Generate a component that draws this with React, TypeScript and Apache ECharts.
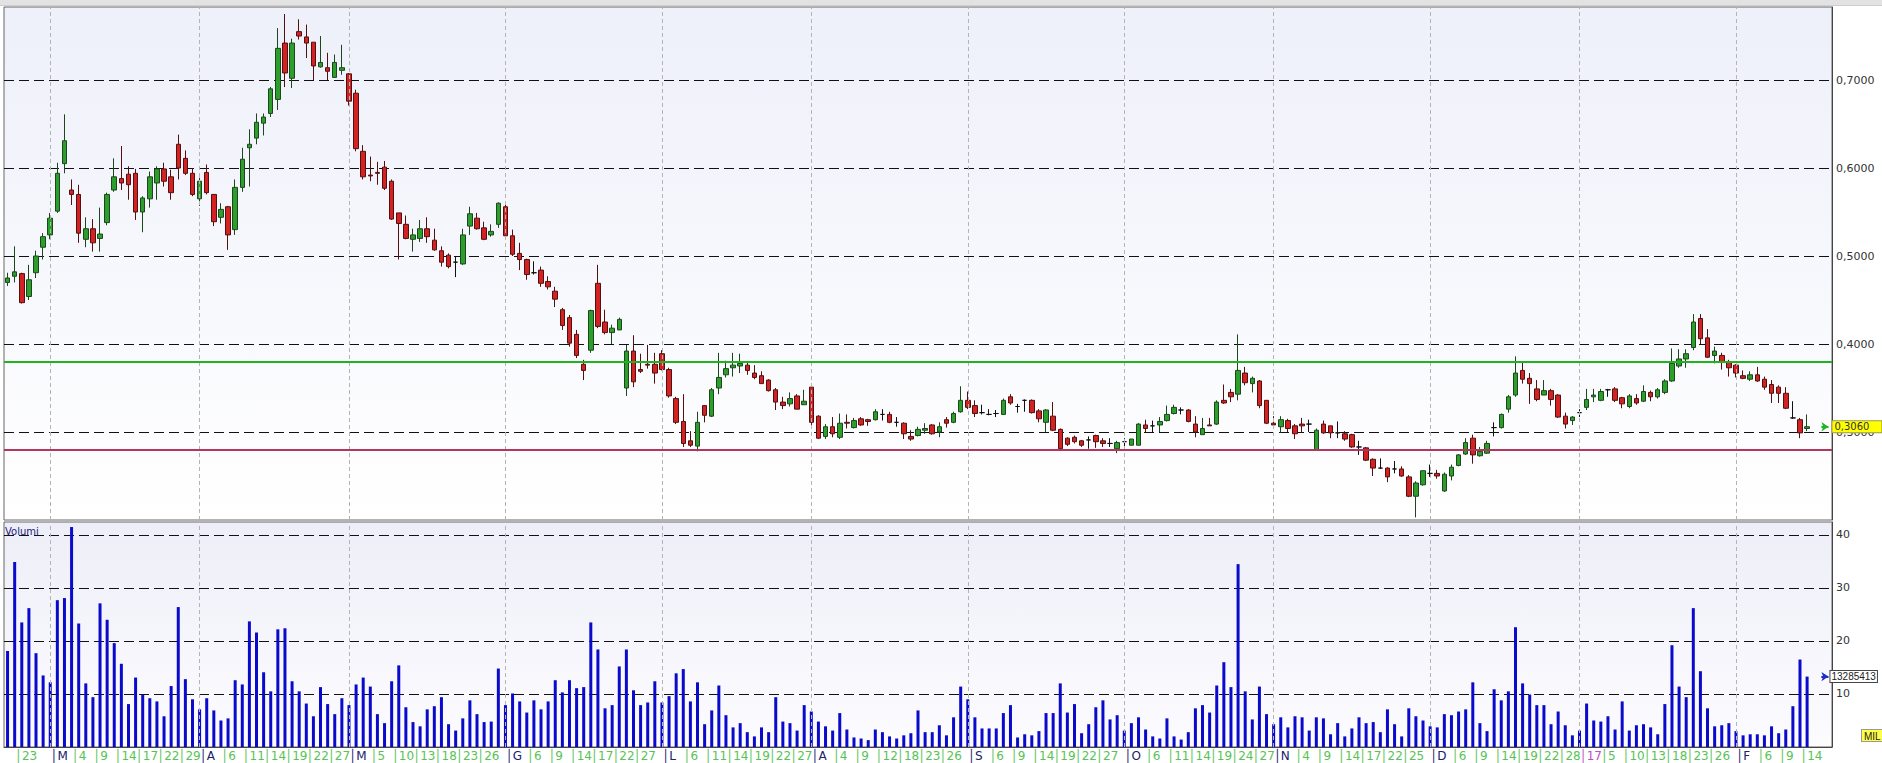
import React, { useEffect, useRef } from "react";
import * as echarts from "echarts";

// ---- calendar (trading days) ----
const MONTHS = ["2016-02", "2016-03", "2016-04", "2016-05", "2016-06", "2016-07", "2016-08", "2016-09", "2016-10", "2016-11", "2016-12", "2017-01", "2017-02"];
const MONTH_DAYS: number[][] = [
  [22, 23, 24, 25, 26, 29],
  [1, 2, 3, 4, 7, 8, 9, 10, 11, 14, 15, 16, 17, 18, 21, 22, 23, 24, 29, 30, 31],
  [1, 4, 5, 6, 7, 8, 11, 12, 13, 14, 15, 18, 19, 20, 21, 22, 25, 26, 27, 28, 29],
  [2, 3, 4, 5, 6, 9, 10, 11, 12, 13, 16, 17, 18, 19, 20, 23, 24, 25, 26, 27, 30, 31],
  [1, 2, 3, 6, 7, 8, 9, 10, 13, 14, 15, 16, 17, 20, 21, 22, 23, 24, 27, 28, 29, 30],
  [1, 4, 5, 6, 7, 8, 11, 12, 13, 14, 15, 18, 19, 20, 21, 22, 25, 26, 27, 28, 29],
  [1, 2, 3, 4, 5, 8, 9, 10, 11, 12, 16, 17, 18, 19, 22, 23, 24, 25, 26, 29, 30, 31],
  [1, 2, 5, 6, 7, 8, 9, 12, 13, 14, 15, 16, 19, 20, 21, 22, 23, 26, 27, 28, 29, 30],
  [3, 4, 5, 6, 7, 10, 11, 12, 13, 14, 17, 18, 19, 20, 21, 24, 25, 26, 27, 28, 31],
  [1, 2, 3, 4, 7, 8, 9, 10, 11, 14, 15, 16, 17, 18, 21, 22, 23, 24, 25, 28, 29, 30],
  [1, 2, 5, 6, 7, 8, 9, 12, 13, 14, 15, 16, 19, 20, 21, 22, 23, 27, 28, 29, 30],
  [2, 3, 4, 5, 6, 9, 10, 11, 12, 13, 16, 17, 18, 19, 20, 23, 24, 25, 26, 27, 30, 31],
  [1, 2, 3, 6, 7, 8, 9, 10, 13, 14, 15],
];
// labelled days on the time axis
const TICK_DAYS: number[][] = [
  [23],
  [1, 4, 9, 14, 17, 22, 29],
  [1, 6, 11, 14, 19, 22, 27],
  [2, 5, 10, 13, 18, 23, 26],
  [1, 6, 9, 14, 17, 22, 27],
  [1, 6, 11, 14, 19, 22, 27],
  [1, 4, 9, 12, 18, 23, 26],
  [1, 6, 9, 14, 19, 22, 27],
  [3, 6, 11, 14, 19, 24, 27],
  [1, 4, 9, 14, 17, 22, 25],
  [1, 6, 9, 14, 19, 22, 28],
  [2, 5, 10, 13, 18, 23, 26],
  [1, 6, 9, 14],
];
const MONTH_LETTERS = ["G", "F", "M", "A", "M", "G", "L", "A", "S", "O", "N", "D"];
const EXTRA_SLOTS = ["+1", "+2", "+3"];

// ---- prices: [open, high, low, close] ----
const OHLC: number[][] = [
  [0.470, 0.481, 0.466, 0.475], [0.477, 0.511, 0.470, 0.482], [0.480, 0.481, 0.446, 0.447], [0.454, 0.490, 0.450, 0.473],
  [0.481, 0.506, 0.475, 0.500], [0.510, 0.526, 0.496, 0.522], [0.524, 0.549, 0.519, 0.543], [0.551, 0.606, 0.549, 0.594],
  [0.605, 0.661, 0.594, 0.631], [0.575, 0.587, 0.558, 0.570], [0.570, 0.581, 0.515, 0.526], [0.519, 0.544, 0.510, 0.531],
  [0.531, 0.542, 0.505, 0.515], [0.520, 0.555, 0.505, 0.525], [0.538, 0.572, 0.535, 0.570], [0.575, 0.611, 0.573, 0.590],
  [0.588, 0.625, 0.575, 0.583], [0.593, 0.602, 0.564, 0.581], [0.594, 0.599, 0.541, 0.550], [0.550, 0.568, 0.527, 0.566],
  [0.565, 0.596, 0.555, 0.590], [0.583, 0.602, 0.564, 0.599], [0.599, 0.606, 0.579, 0.585], [0.590, 0.598, 0.564, 0.572],
  [0.627, 0.638, 0.587, 0.600], [0.611, 0.620, 0.592, 0.594], [0.594, 0.600, 0.568, 0.570], [0.565, 0.589, 0.557, 0.585],
  [0.595, 0.604, 0.570, 0.572], [0.570, 0.570, 0.534, 0.539], [0.544, 0.560, 0.537, 0.553], [0.556, 0.557, 0.507, 0.524],
  [0.530, 0.587, 0.524, 0.578], [0.578, 0.623, 0.573, 0.610], [0.623, 0.644, 0.579, 0.627], [0.634, 0.662, 0.627, 0.652],
  [0.651, 0.662, 0.637, 0.658], [0.662, 0.692, 0.658, 0.690], [0.678, 0.759, 0.666, 0.736], [0.742, 0.775, 0.692, 0.708],
  [0.702, 0.747, 0.691, 0.742], [0.755, 0.769, 0.746, 0.750], [0.749, 0.763, 0.725, 0.742], [0.743, 0.743, 0.700, 0.716],
  [0.715, 0.750, 0.714, 0.720], [0.714, 0.731, 0.700, 0.710], [0.703, 0.729, 0.703, 0.720], [0.711, 0.740, 0.706, 0.714],
  [0.707, 0.708, 0.671, 0.676], [0.685, 0.689, 0.619, 0.622], [0.619, 0.626, 0.587, 0.590], [0.592, 0.613, 0.585, 0.591],
  [0.595, 0.607, 0.581, 0.594], [0.601, 0.608, 0.575, 0.577], [0.585, 0.587, 0.541, 0.542], [0.549, 0.549, 0.496, 0.537],
  [0.536, 0.546, 0.519, 0.520], [0.519, 0.531, 0.505, 0.524], [0.520, 0.541, 0.516, 0.531], [0.531, 0.544, 0.515, 0.522],
  [0.518, 0.531, 0.506, 0.507], [0.506, 0.511, 0.488, 0.493], [0.501, 0.503, 0.486, 0.488], [0.493, 0.500, 0.476, 0.493],
  [0.491, 0.531, 0.490, 0.524], [0.534, 0.556, 0.524, 0.548], [0.543, 0.549, 0.530, 0.531], [0.532, 0.539, 0.518, 0.519],
  [0.524, 0.536, 0.522, 0.528], [0.536, 0.561, 0.532, 0.560], [0.556, 0.558, 0.520, 0.523], [0.523, 0.530, 0.500, 0.502],
  [0.503, 0.515, 0.484, 0.496], [0.496, 0.497, 0.473, 0.479], [0.481, 0.494, 0.479, 0.481], [0.484, 0.488, 0.465, 0.469],
  [0.471, 0.477, 0.462, 0.465], [0.460, 0.465, 0.442, 0.451], [0.439, 0.441, 0.416, 0.421], [0.430, 0.433, 0.397, 0.401],
  [0.411, 0.416, 0.384, 0.387], [0.377, 0.382, 0.359, 0.370], [0.393, 0.439, 0.390, 0.438], [0.469, 0.490, 0.418, 0.420],
  [0.425, 0.439, 0.411, 0.413], [0.413, 0.422, 0.400, 0.418], [0.416, 0.430, 0.416, 0.428], [0.350, 0.399, 0.341, 0.392],
  [0.392, 0.410, 0.351, 0.357], [0.371, 0.389, 0.367, 0.369], [0.377, 0.399, 0.372, 0.376], [0.377, 0.390, 0.355, 0.367],
  [0.389, 0.393, 0.370, 0.371], [0.371, 0.373, 0.339, 0.341], [0.338, 0.340, 0.309, 0.311], [0.312, 0.343, 0.283, 0.287],
  [0.290, 0.301, 0.283, 0.285], [0.284, 0.323, 0.278, 0.311], [0.330, 0.330, 0.311, 0.319], [0.318, 0.350, 0.317, 0.348],
  [0.350, 0.390, 0.343, 0.362], [0.365, 0.381, 0.362, 0.372], [0.373, 0.390, 0.363, 0.376], [0.375, 0.389, 0.367, 0.378],
  [0.376, 0.380, 0.365, 0.370], [0.367, 0.376, 0.360, 0.362], [0.364, 0.369, 0.355, 0.355], [0.359, 0.360, 0.346, 0.347],
  [0.348, 0.350, 0.325, 0.334], [0.334, 0.340, 0.326, 0.330], [0.332, 0.345, 0.329, 0.338], [0.341, 0.343, 0.326, 0.326],
  [0.331, 0.348, 0.331, 0.335], [0.351, 0.353, 0.308, 0.311], [0.318, 0.319, 0.292, 0.293], [0.295, 0.309, 0.292, 0.306],
  [0.306, 0.317, 0.294, 0.298], [0.294, 0.321, 0.292, 0.310], [0.311, 0.320, 0.304, 0.310], [0.305, 0.316, 0.304, 0.313],
  [0.315, 0.317, 0.307, 0.308], [0.314, 0.315, 0.307, 0.312], [0.314, 0.326, 0.313, 0.323], [0.320, 0.326, 0.313, 0.320],
  [0.320, 0.323, 0.310, 0.311], [0.311, 0.317, 0.306, 0.311], [0.310, 0.311, 0.292, 0.298], [0.295, 0.302, 0.290, 0.292],
  [0.296, 0.306, 0.295, 0.303], [0.302, 0.310, 0.298, 0.304], [0.308, 0.309, 0.297, 0.298], [0.300, 0.311, 0.294, 0.306],
  [0.314, 0.317, 0.305, 0.310], [0.311, 0.323, 0.310, 0.321], [0.323, 0.352, 0.322, 0.336], [0.336, 0.346, 0.326, 0.328],
  [0.330, 0.336, 0.317, 0.321], [0.322, 0.331, 0.320, 0.322], [0.320, 0.326, 0.319, 0.320], [0.321, 0.325, 0.317, 0.321],
  [0.320, 0.338, 0.320, 0.336], [0.340, 0.343, 0.331, 0.333], [0.329, 0.332, 0.322, 0.329], [0.336, 0.337, 0.323, 0.336],
  [0.336, 0.337, 0.321, 0.322], [0.324, 0.326, 0.311, 0.315], [0.311, 0.326, 0.300, 0.325], [0.318, 0.334, 0.301, 0.302],
  [0.303, 0.304, 0.280, 0.281], [0.293, 0.294, 0.284, 0.286], [0.294, 0.296, 0.287, 0.289], [0.290, 0.291, 0.283, 0.285],
  [0.291, 0.295, 0.281, 0.291], [0.296, 0.297, 0.282, 0.289], [0.290, 0.293, 0.283, 0.287], [0.287, 0.293, 0.283, 0.287],
  [0.281, 0.290, 0.276, 0.288], [0.289, 0.293, 0.283, 0.289], [0.285, 0.292, 0.285, 0.292], [0.285, 0.310, 0.285, 0.309],
  [0.308, 0.314, 0.300, 0.304], [0.307, 0.313, 0.300, 0.307], [0.308, 0.317, 0.300, 0.312], [0.313, 0.330, 0.312, 0.320],
  [0.321, 0.331, 0.320, 0.328], [0.325, 0.328, 0.320, 0.325], [0.325, 0.326, 0.311, 0.312], [0.309, 0.318, 0.294, 0.300],
  [0.297, 0.316, 0.297, 0.304], [0.308, 0.316, 0.307, 0.307], [0.309, 0.336, 0.308, 0.334], [0.336, 0.354, 0.332, 0.333],
  [0.345, 0.349, 0.334, 0.340], [0.343, 0.411, 0.336, 0.370], [0.367, 0.374, 0.353, 0.356], [0.355, 0.363, 0.345, 0.361],
  [0.358, 0.359, 0.327, 0.330], [0.336, 0.336, 0.309, 0.310], [0.310, 0.318, 0.307, 0.308], [0.306, 0.318, 0.299, 0.314],
  [0.313, 0.315, 0.300, 0.304], [0.307, 0.309, 0.292, 0.298], [0.309, 0.316, 0.299, 0.307], [0.309, 0.314, 0.300, 0.309],
  [0.280, 0.304, 0.279, 0.302], [0.309, 0.313, 0.298, 0.299], [0.307, 0.307, 0.293, 0.299], [0.299, 0.312, 0.293, 0.299],
  [0.298, 0.301, 0.290, 0.292], [0.297, 0.298, 0.282, 0.283], [0.283, 0.290, 0.274, 0.283], [0.282, 0.283, 0.267, 0.268],
  [0.269, 0.270, 0.250, 0.259], [0.259, 0.270, 0.258, 0.259], [0.259, 0.260, 0.243, 0.249], [0.258, 0.267, 0.253, 0.258],
  [0.258, 0.261, 0.249, 0.250], [0.249, 0.251, 0.226, 0.227], [0.227, 0.244, 0.203, 0.242], [0.240, 0.256, 0.239, 0.256],
  [0.253, 0.263, 0.249, 0.253], [0.253, 0.257, 0.247, 0.250], [0.233, 0.254, 0.232, 0.252], [0.250, 0.263, 0.245, 0.260],
  [0.262, 0.275, 0.261, 0.274], [0.275, 0.293, 0.274, 0.288], [0.293, 0.297, 0.264, 0.274], [0.273, 0.283, 0.272, 0.278],
  [0.276, 0.290, 0.275, 0.287], [0.305, 0.311, 0.295, 0.305], [0.305, 0.321, 0.304, 0.320], [0.326, 0.342, 0.322, 0.340],
  [0.342, 0.386, 0.340, 0.367], [0.370, 0.380, 0.355, 0.360], [0.361, 0.367, 0.332, 0.355], [0.349, 0.359, 0.335, 0.337],
  [0.342, 0.359, 0.342, 0.347], [0.347, 0.349, 0.330, 0.337], [0.342, 0.343, 0.316, 0.317], [0.318, 0.322, 0.304, 0.309],
  [0.313, 0.318, 0.308, 0.317], [0.322, 0.326, 0.317, 0.322], [0.328, 0.349, 0.325, 0.337], [0.340, 0.349, 0.334, 0.342],
  [0.336, 0.349, 0.335, 0.346], [0.348, 0.349, 0.340, 0.348], [0.349, 0.351, 0.334, 0.336], [0.339, 0.340, 0.327, 0.332],
  [0.329, 0.343, 0.327, 0.341], [0.338, 0.343, 0.331, 0.333], [0.335, 0.353, 0.334, 0.346], [0.345, 0.347, 0.335, 0.340],
  [0.340, 0.350, 0.338, 0.348], [0.345, 0.360, 0.343, 0.358], [0.358, 0.395, 0.357, 0.378], [0.375, 0.394, 0.373, 0.383],
  [0.383, 0.394, 0.373, 0.389], [0.396, 0.434, 0.393, 0.425], [0.429, 0.434, 0.400, 0.406], [0.407, 0.417, 0.384, 0.385],
  [0.387, 0.397, 0.378, 0.392], [0.387, 0.390, 0.371, 0.380], [0.379, 0.382, 0.363, 0.373], [0.376, 0.377, 0.362, 0.367],
  [0.364, 0.370, 0.360, 0.361], [0.360, 0.369, 0.358, 0.365], [0.365, 0.374, 0.357, 0.358], [0.360, 0.363, 0.348, 0.351],
  [0.354, 0.359, 0.333, 0.344], [0.351, 0.353, 0.333, 0.344], [0.344, 0.351, 0.326, 0.327], [0.316, 0.335, 0.315, 0.316],
  [0.314, 0.316, 0.293, 0.299], [0.304, 0.320, 0.301, 0.306],
];

// ---- volumes (millions) ----
const VOLUMES: number[] = [
  18.1, 34.9, 23.5, 26.2, 17.7, 13.5, 12.2, 27.7, 28.1, 41.5,
  23.3, 12.0, 9.4, 27.1, 24.0, 19.6, 15.7, 8.1, 13.1, 9.9,
  9.2, 8.6, 5.8, 11.5, 26.4, 12.8, 9.0, 7.1, 9.2, 6.9,
  5.0, 5.4, 12.6, 11.8, 23.7, 21.6, 14.1, 10.5, 22.2, 22.4,
  12.4, 10.5, 8.2, 5.8, 11.3, 8.1, 6.2, 9.2, 7.9, 11.8,
  13.1, 11.4, 6.2, 4.5, 12.4, 15.4, 7.5, 4.7, 3.9, 7.1,
  7.7, 9.4, 4.3, 3.1, 5.4, 8.8, 6.2, 4.7, 4.8, 14.8,
  7.9, 10.1, 8.6, 6.5, 8.8, 7.1, 8.6, 12.6, 10.3, 12.6,
  11.1, 11.3, 23.5, 18.4, 7.3, 7.9, 15.2, 18.4, 10.7, 7.9,
  8.4, 12.4, 8.4, 9.6, 13.9, 14.7, 8.6, 12.2, 4.3, 6.9,
  11.6, 6.0, 3.7, 4.5, 2.8, 2.0, 3.7, 2.8, 9.4, 4.8,
  4.5, 3.1, 7.9, 6.7, 4.8, 3.9, 3.1, 6.4, 3.3, 1.8,
  1.6, 1.3, 3.3, 2.8, 2.0, 1.6, 2.2, 2.6, 6.9, 2.8,
  2.8, 4.1, 2.2, 5.6, 11.4, 9.0, 5.6, 3.5, 3.5, 3.5,
  6.4, 7.9, 1.8, 2.4, 2.2, 3.0, 6.4, 6.4, 12.0, 6.5,
  8.1, 2.6, 4.3, 7.5, 8.8, 5.2, 6.0, 3.1, 4.5, 5.6,
  3.3, 2.0, 1.6, 5.4, 2.0, 1.4, 2.8, 7.3, 7.9, 6.5,
  11.6, 16.0, 11.3, 34.5, 10.5, 5.2, 11.4, 6.2, 4.3, 5.6,
  3.7, 5.8, 5.6, 3.1, 5.6, 5.4, 2.4, 4.5, 2.0, 3.5,
  5.6, 4.5, 4.7, 2.8, 7.1, 4.3, 2.0, 7.3, 5.8, 5.0,
  3.9, 3.7, 6.2, 6.0, 6.7, 7.1, 12.2, 4.5, 3.0, 10.9,
  8.8, 10.5, 22.6, 12.0, 9.9, 7.9, 7.9, 4.3, 6.7, 4.1,
  2.2, 3.1, 8.2, 5.0, 4.8, 5.8, 3.3, 8.6, 3.1, 4.1,
  4.3, 3.7, 2.4, 8.1, 19.2, 11.4, 9.4, 26.2, 14.3, 7.3,
  3.9, 4.1, 4.5, 3.0, 2.2, 2.4, 2.4, 2.2, 3.9, 2.6,
  3.3, 7.7, 16.5, 13.285413,
];

// ---- reference lines ----
const SUPPORT_GREEN = 0.383;
const SUPPORT_RED = 0.2818;
const LAST_PRICE = 0.306;
const LAST_PRICE_TEXT = "0,3060";
const LAST_VOLUME = 13.285413;
const LAST_VOLUME_TEXT = "13285413";

const FONT = "'DejaVu Sans', 'Liberation Sans', sans-serif";
const FONT_NARROW = "'Liberation Sans', 'DejaVu Sans', sans-serif";

function buildOption() {
  const pad = (n: number) => (n < 10 ? "0" + n : "" + n);
  const dates: string[] = [];
  const monthStarts: string[] = [];
  const labelMap = new Map<number, string>();
  MONTHS.forEach((m, mi) => {
    MONTH_DAYS[mi].forEach((d, di) => {
      const key = m + "-" + pad(d);
      const idx = dates.length;
      dates.push(key);
      if (di === 0 && mi > 0) monthStarts.push(key);
      if (TICK_DAYS[mi].indexOf(d) >= 0) {
        let txt: string;
        if (di === 0 && mi > 0) {
          const monthNum = parseInt(m.slice(5), 10);
          if (monthNum === 1) txt = "{y|\u2502" + m.slice(2, 4) + "}";
          else txt = "{m|\u2502" + MONTH_LETTERS[monthNum - 1] + "}";
        } else {
          txt = "{g|\u2502" + d + "}";
        }
        labelMap.set(idx, txt);
      }
    });
  });
  const categories = dates.concat(EXTRA_SLOTS);

  const bgGrad = (a: string, b: string) =>
    new echarts.graphic.LinearGradient(0, 0, 0, 1, [
      { offset: 0, color: a },
      { offset: 1, color: b },
    ]);

  const monthLines = monthStarts.map((k) => ({
    xAxis: k,
    lineStyle: { color: "#b4b4b4", type: [4, 3], width: 1 },
  }));

  const dash = { color: "#111", type: [10, 5], width: 1 };

  return {
    animation: false,
    backgroundColor: "#ffffff",
    textStyle: { fontFamily: FONT },
    grid: [
      {
        left: 4, right: 50, top: 7, height: 513, show: true,
        backgroundColor: bgGrad("#eef0fa", "#ffffff"),
        borderColor: "#666", borderWidth: 1,
      },
      {
        left: 4, right: 50, top: 522, height: 225, show: true,
        backgroundColor: bgGrad("#eeeef8", "#fcfcff"),
        borderColor: "#666", borderWidth: 1,
      },
    ],
    xAxis: [
      {
        type: "category", gridIndex: 0, data: categories, boundaryGap: true,
        axisLine: { show: false }, axisTick: { show: false }, axisLabel: { show: false }, splitLine: { show: false },
      },
      {
        type: "category", gridIndex: 1, data: categories, boundaryGap: true,
        axisLine: { show: true, lineStyle: { color: "#444" } },
        axisTick: { show: false },
        splitLine: { show: false },
        axisLabel: {
          interval: (i: number) => labelMap.has(i),
          formatter: (_v: string, i: number) => labelMap.get(i) || "",
          align: "left",
          margin: 1,
          hideOverlap: false,
          rich: {
            g: { color: "#55c455", fontSize: 12, fontFamily: FONT, lineHeight: 15 },
            m: { color: "#20206e", fontSize: 12, fontFamily: FONT, lineHeight: 15 },
            y: { color: "#c848c8", fontSize: 12, fontFamily: FONT, lineHeight: 15 },
          },
        },
      },
    ],
    yAxis: [
      {
        type: "value", gridIndex: 0, position: "right", min: 0.2, max: 0.783, interval: 0.1,
        axisLine: { show: true, lineStyle: { color: "#444" } },
        axisTick: { show: false },
        axisLabel: {
          formatter: (v: number) => v.toFixed(4).replace(".", ","),
          color: "#333", fontSize: 11, margin: 4, fontFamily: FONT,
          showMinLabel: false, showMaxLabel: false,
        },
        splitLine: { show: true, showMinLine: false, showMaxLine: false, lineStyle: dash },
      },
      {
        type: "value", gridIndex: 1, position: "right", min: 0, max: 42.45, interval: 10,
        axisLine: { show: true, lineStyle: { color: "#444" } },
        axisTick: { show: false },
        axisLabel: {
          color: "#333", fontSize: 11, margin: 4, fontFamily: FONT,
          showMinLabel: false, showMaxLabel: false,
        },
        splitLine: { show: true, showMinLine: false, showMaxLine: false, lineStyle: dash },
      },
    ],
    series: [
      {
        type: "candlestick",
        xAxisIndex: 0,
        yAxisIndex: 0,
        barWidth: 5,
        data: OHLC.map(([o, h, l, c]) => [o, c, l, h]),
        itemStyle: {
          color: "#2c9e2c", color0: "#d42222",
          borderColor: "#1d461d", borderColor0: "#521010",
          borderColorDoji: "#111", borderWidth: 1,
        },
        markLine: {
          silent: true, symbol: "none", animation: false,
          label: { show: false },
          data: [
            ...monthLines,
            { yAxis: SUPPORT_GREEN, lineStyle: { color: "#1fb41f", width: 2, type: "solid" } },
            { yAxis: SUPPORT_RED, lineStyle: { color: "#b3365f", width: 2, type: "solid" } },
            [
              {
                xAxis: EXTRA_SLOTS[1], yAxis: LAST_PRICE, symbol: "none",
                lineStyle: { color: "#22b422", width: 2, type: "solid" },
                label: {
                  show: true, position: "end", distance: 4, formatter: LAST_PRICE_TEXT,
                  color: "#333", fontSize: 10, fontFamily: FONT,
                  backgroundColor: "#ffff00", borderColor: "#9a9a40", borderWidth: 1,
                  padding: [1, 12, 0, 2],
                },
              },
              { xAxis: EXTRA_SLOTS[2], yAxis: LAST_PRICE, symbol: "arrow", symbolSize: 7 },
            ],
          ],
        },
      },
      {
        type: "bar",
        xAxisIndex: 1,
        yAxisIndex: 1,
        barWidth: 3,
        data: VOLUMES,
        itemStyle: { color: "#0a0acc" },
        markLine: {
          silent: true, symbol: "none", animation: false,
          label: { show: false },
          data: [
            ...monthLines,
            [
              {
                xAxis: EXTRA_SLOTS[1], yAxis: LAST_VOLUME, symbol: "none",
                lineStyle: { color: "#1a2ccc", width: 2, type: "solid" },
                label: {
                  show: true, position: "end", distance: 2, formatter: LAST_VOLUME_TEXT,
                  color: "#222", fontSize: 10, fontFamily: FONT_NARROW,
                  backgroundColor: "#ffffff", borderColor: "#444", borderWidth: 1,
                  padding: [1, 1, 0, 1],
                },
              },
              { xAxis: EXTRA_SLOTS[2], yAxis: LAST_VOLUME, symbol: "arrow", symbolSize: 7 },
            ],
          ],
        },
      },
    ],
    graphic: [
      { type: "rect", shape: { x: 0, y: 0, width: 1882, height: 5 }, style: { fill: "#e2e2e2" }, silent: true },
      { type: "line", shape: { x1: 0, y1: 5.5, x2: 1882, y2: 5.5 }, style: { stroke: "#cfcfcf", lineWidth: 1 }, silent: true },
      {
        type: "text", x: 5, y: 526, silent: true,
        style: { text: "Volumi", fill: "#1c1c7c", fontSize: 10, fontFamily: FONT },
      },
      {
        type: "text", x: 1862, y: 730, silent: true,
        style: {
          text: "MIL", fill: "#222", fontSize: 10, fontFamily: FONT_NARROW,
          backgroundColor: "#ffff44", borderColor: "#999", borderWidth: 1, padding: [1, 2, 0, 2],
        },
      },
    ],
  };
}

export default function App() {
  const ref = useRef<HTMLDivElement>(null);
  useEffect(() => {
    if (!ref.current) return;
    const chart = echarts.init(ref.current, null, { renderer: "svg" });
    chart.setOption(buildOption() as any);
    return () => {
      chart.dispose();
    };
  }, []);
  return (
    <div
      ref={ref}
      style={{ position: "absolute", left: 0, top: 0, width: 1882, height: 763, background: "#fff" }}
    />
  );
}
